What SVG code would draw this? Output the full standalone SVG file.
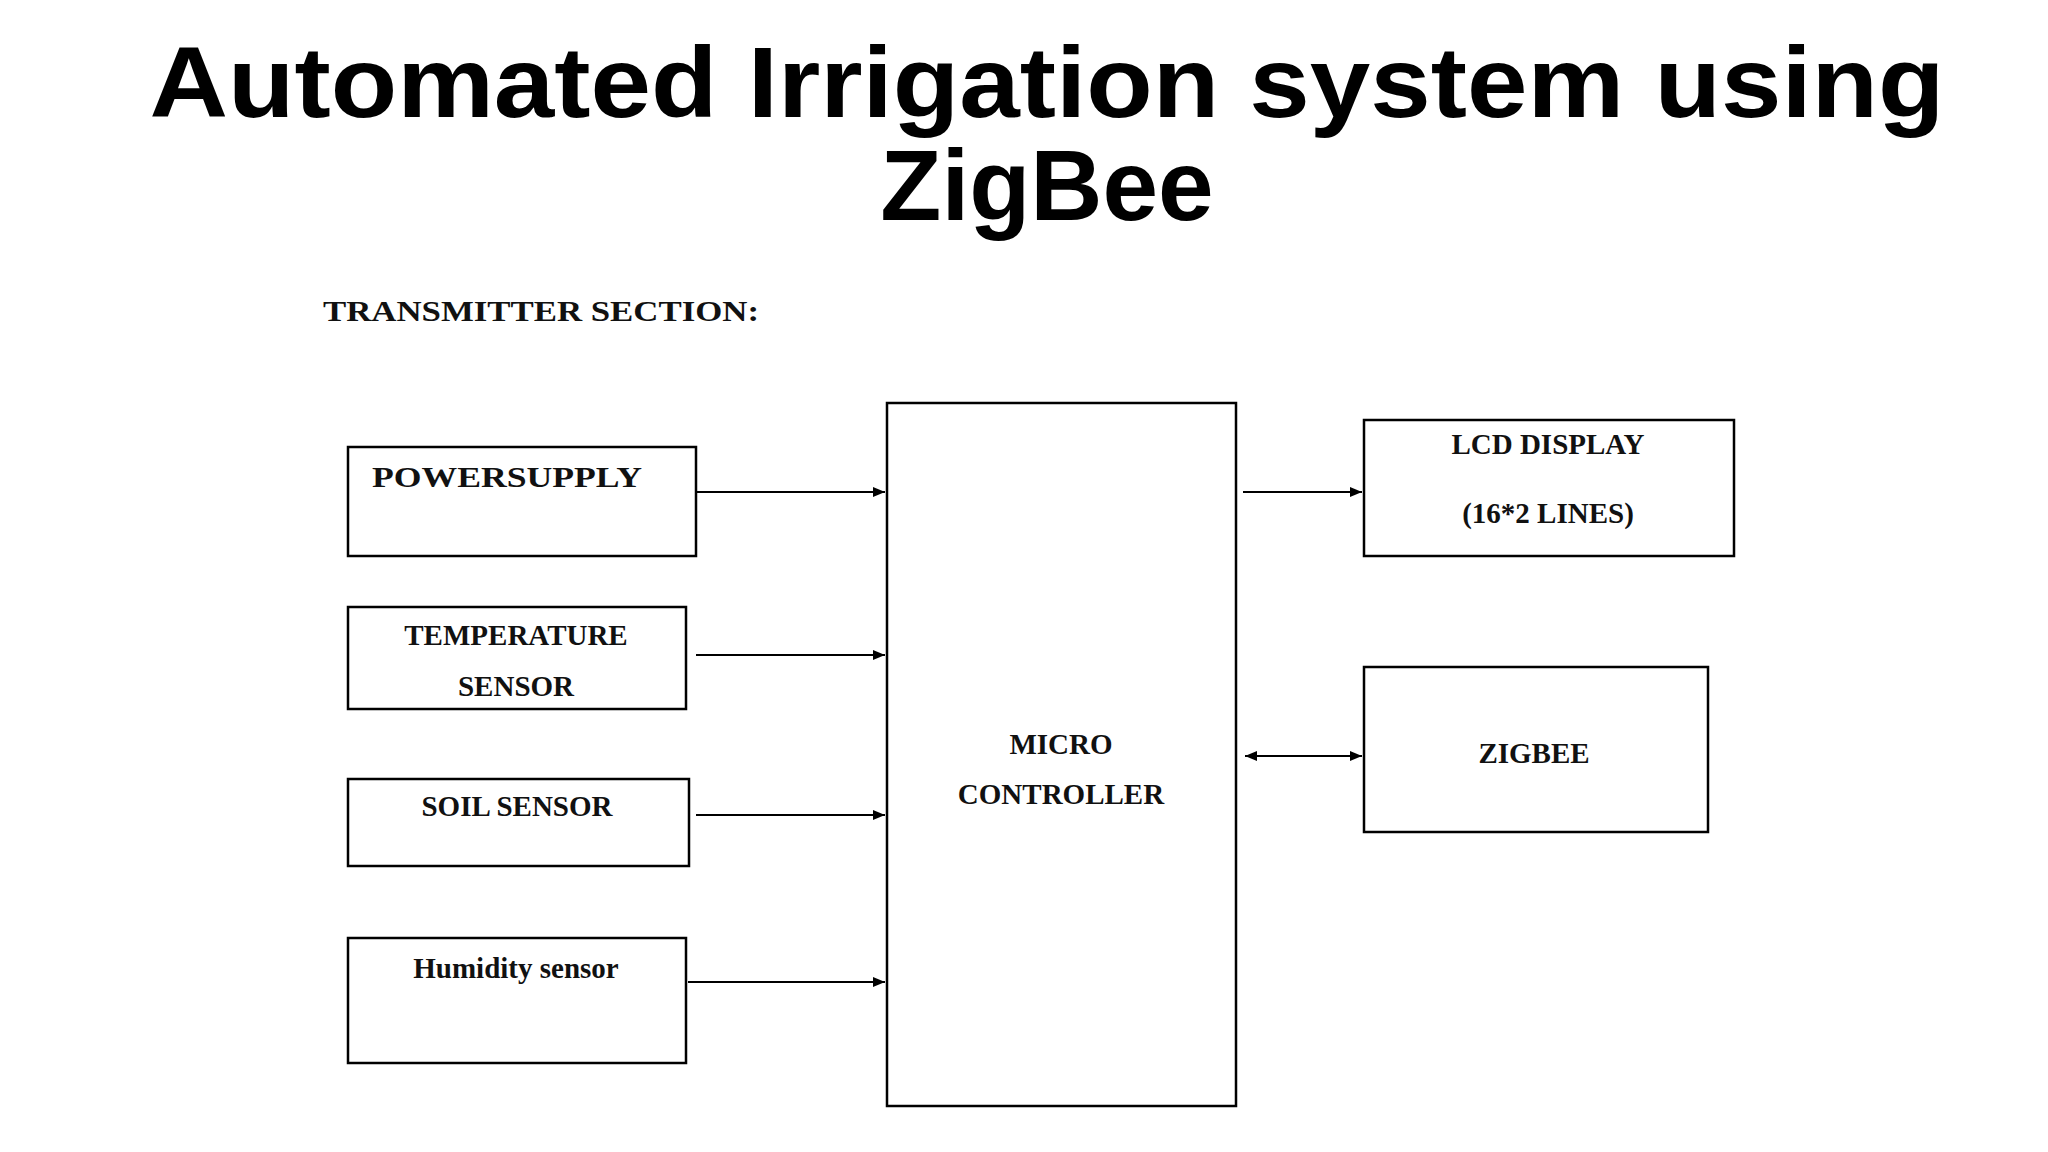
<svg xmlns="http://www.w3.org/2000/svg" width="2048" height="1152" viewBox="0 0 2048 1152">
<defs>
<marker id="ah" markerWidth="12" markerHeight="10" refX="12" refY="5" orient="auto-start-reverse" markerUnits="userSpaceOnUse"><path d="M0,0 L12,5 L0,10 z" fill="#000"/></marker>
<style>
.b{fill:#fff;stroke:#000;stroke-width:2.5}
.t{font-family:"Liberation Serif",serif;font-weight:bold;font-size:29px;fill:#111}
.c{stroke:#000;stroke-width:2;fill:none;marker-end:url(#ah)}
.h{font-family:"Liberation Sans",Arial,sans-serif;font-weight:bold;font-size:100px;fill:#000}
</style>
</defs>
<rect width="2048" height="1152" fill="#fff"/>
<text class="h" x="1047" y="117" text-anchor="middle" textLength="1795" lengthAdjust="spacingAndGlyphs">Automated Irrigation system using</text>
<text class="h" x="1047" y="220" text-anchor="middle">ZigBee</text>
<text class="t" x="323" y="321" textLength="436" lengthAdjust="spacingAndGlyphs">TRANSMITTER SECTION:</text>
<g id="power"><rect class="b" x="348" y="447" width="348" height="109"/><text class="t" x="372" y="487" textLength="270" lengthAdjust="spacingAndGlyphs">POWERSUPPLY</text></g>
<g id="temp"><rect class="b" x="348" y="607" width="338" height="102"/><text class="t" x="516" y="645" text-anchor="middle">TEMPERATURE</text><text class="t" x="516" y="696" text-anchor="middle">SENSOR</text></g>
<g id="soil"><rect class="b" x="348" y="779" width="341" height="87"/><text class="t" x="517" y="816" text-anchor="middle">SOIL SENSOR</text></g>
<g id="humidity"><rect class="b" x="348" y="938" width="338" height="125"/><text class="t" x="516" y="978" text-anchor="middle">Humidity sensor</text></g>
<g id="micro"><rect class="b" x="887" y="403" width="349" height="703"/><text class="t" x="1061" y="754" text-anchor="middle">MICRO</text><text class="t" x="1061" y="804" text-anchor="middle">CONTROLLER</text></g>
<g id="lcd"><rect class="b" x="1364" y="420" width="370" height="136"/><text class="t" x="1548" y="454" text-anchor="middle">LCD DISPLAY</text><text class="t" x="1548" y="523" text-anchor="middle">(16*2 LINES)</text></g>
<g id="zigbee"><rect class="b" x="1364" y="667" width="344" height="165"/><text class="t" x="1534" y="763" text-anchor="middle">ZIGBEE</text></g>
<g id="connectors">
<line class="c" x1="696" y1="492" x2="885" y2="492"/>
<line class="c" x1="696" y1="655" x2="885" y2="655"/>
<line class="c" x1="696" y1="815" x2="885" y2="815"/>
<line class="c" x1="688" y1="982" x2="885" y2="982"/>
<line class="c" x1="1243" y1="492" x2="1362" y2="492"/>
<line class="c" x1="1245" y1="756" x2="1362" y2="756" marker-start="url(#ah)"/>
</g>
</svg>
